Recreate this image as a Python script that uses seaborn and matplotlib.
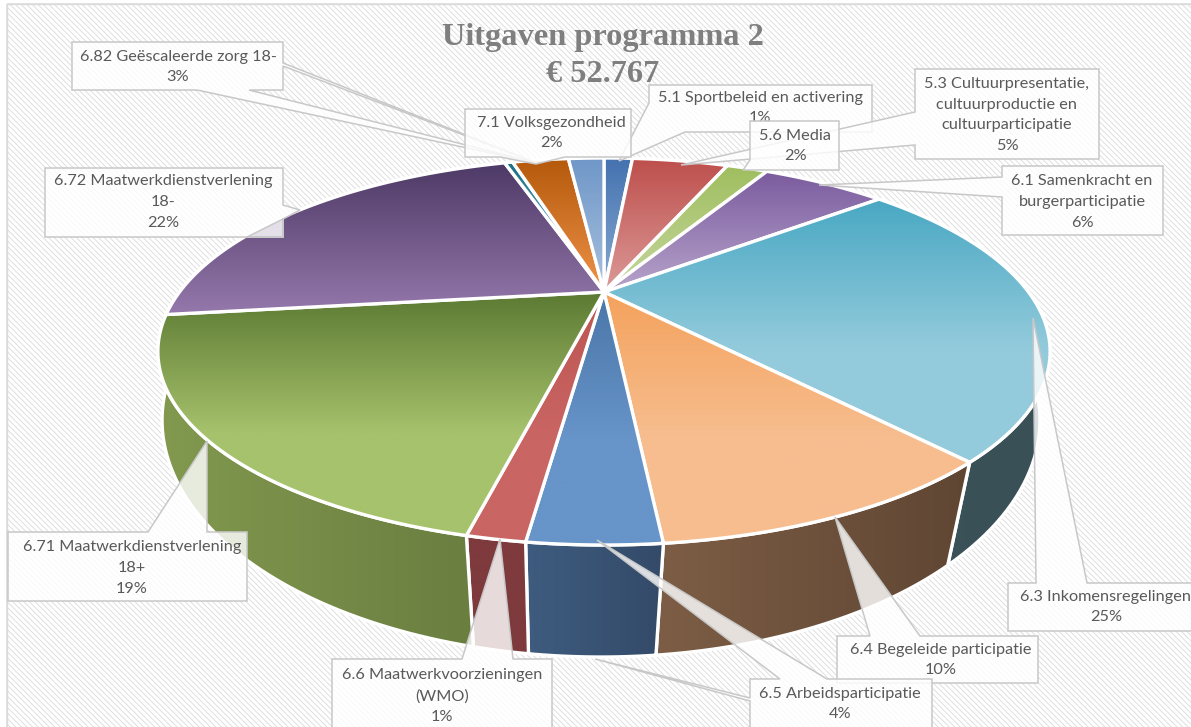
import numpy as np
import seaborn as sns
from matplotlib import pyplot as plt
from matplotlib.patches import Polygon, Rectangle

# share of every slice (the printed labels are rounded)
codes = ["5.1", "5.3", "5.6", "6.1", "6.3", "6.4", "6.5", "6.6", "6.71", "6.72", "6.81", "6.82", "7.1"]
shares = [1.4, 4.7, 2.0, 6.0, 24.4, 10.0, 3.6, 1.6, 19.4, 22.1, 0.4, 2.75, 1.75]

top_colors = ["#4472b0", "#bd4f4c", "#9fbe5f", "#7a5b9e", "#49a8c3", "#f4a25c", "#4a76a8", "#bb5552",
              "#5c7a33", "#4e3a66", "#1d6f84", "#b5590c", "#6f97c8"]
low_colors = ["#8aabd2", "#dc9a98", "#c6d79e", "#b7a4cb", "#94cbdc", "#f7bd8f", "#6794c9", "#c96563",
              "#a6c26c", "#9578ac", "#7fc3d6", "#ee9249", "#a9c1de"]
wall_left = ["#3a5578", "#7d3a3a", "#65793c", "#54406e", "#3a5259", "#7d5d45", "#3e5c7f", "#7e3a3c",
             "#82994f", "#54406e", "#1a4a58", "#7a3f0a", "#3a5578"]
wall_right = ["#3a5578", "#7d3a3a", "#65793c", "#54406e", "#3b5057", "#5f4633", "#344a69", "#7e3a3c",
              "#6a7e40", "#54406e", "#1a4a58", "#7a3f0a", "#3a5578"]

label_texts = {
    "5.1": "5.1 Sportbeleid en activering\n1%",
    "5.3": "5.3 Cultuurpresentatie,\ncultuurproductie en\ncultuurparticipatie\n5%",
    "5.6": "5.6 Media\n2%",
    "6.1": "6.1 Samenkracht en\nburgerparticipatie\n6%",
    "6.3": "6.3 Inkomensregelingen\n25%",
    "6.4": "6.4 Begeleide participatie\n10%",
    "6.5": "6.5 Arbeidsparticipatie\n4%",
    "6.6": "6.6 Maatwerkvoorzieningen\n(WMO)\n1%",
    "6.71": "6.71 Maatwerkdienstverlening\n18+\n19%",
    "6.72": "6.72 Maatwerkdienstverlening\n18-\n22%",
    "6.82": "6.82 Geëscaleerde zorg 18-\n3%",
    "7.1": "7.1 Volksgezondheid\n2%",
}
title_lines = ["Uitgaven programma 2", "€ 52.767"]

# layout in pixels: text centre and the callout outline of every label
label_centers = {
    "5.1": (760, 108), "5.3": (1007, 115), "5.6": (795, 146), "6.1": (1082, 202), "6.3": (1106, 607),
    "6.4": (941, 660), "6.5": (840, 704), "6.6": (442, 696), "6.71": (132, 568), "6.72": (163, 202),
    "6.82": (178, 67), "7.1": (551, 133),
}
label_outlines = {
    "5.1": [(649, 85), (872, 85), (872, 132), (685, 132), (619, 161), (649, 103)],
    "5.3": [(915, 69), (1099, 69), (1099, 159), (915, 159), (915, 145), (681, 165), (915, 112)],
    "5.6": [(750, 121), (839, 121), (839, 170), (750, 170), (743, 170), (750, 160)],
    "6.1": [(1002, 166), (1163, 166), (1163, 235), (1002, 235), (1002, 197), (819, 185), (1002, 177)],
    "6.3": [(1008, 583), (1036, 583), (1033, 318), (1087, 583), (1200, 583), (1200, 631), (1008, 631)],
    "6.4": [(837, 636), (870, 636), (835, 517), (920, 636), (1038, 636), (1038, 683), (837, 683)],
    "6.5": [(750, 679), (780, 679), (597, 540), (827, 679), (932, 679), (932, 735), (750, 735), (750, 701),
            (595, 659), (750, 698)],
    "6.6": [(332, 659), (462, 659), (500, 539), (513, 659), (552, 659), (552, 735), (332, 735)],
    "6.71": [(8, 532), (148, 532), (207, 441), (207, 532), (247, 532), (247, 601), (8, 601)],
    "6.72": [(45, 168), (283, 168), (283, 205), (300, 210), (283, 219), (283, 237), (247, 237), (283, 219),
             (283, 237), (45, 237)],
    "6.82": [(72, 42), (283, 42), (283, 63), (537, 163), (283, 66), (283, 90), (249, 90), (537, 163),
             (197, 90), (72, 90)],
    "7.1": [(465, 109), (631, 109), (631, 157), (565, 157), (536, 164), (500, 157), (465, 157)],
}

# perspective of the top face and of the bottom face of the disc
top_face = dict(cx=604, cy=292, k=424.5, a=175.2, c=0.3075)
low_face = dict(cx=601, cy=361, k=425.0, a=222.0, c=0.25)


def project(theta, cx, cy, k, a, c):
    # theta runs clockwise from 12 o'clock, the far side of the disc is smaller
    x = np.sin(theta)
    y = np.cos(theta)
    d = 1 + c * y
    return cx + k * x / d, cy - a * y / d


def fill_gradient(ax, points, first, last, horizontal, z):
    # gradient image clipped to the polygon, white outline on top
    points = np.array(points)
    x0, y0 = points.min(axis=0)
    x1, y1 = points.max(axis=0)
    ramp = np.linspace(0, 1, 128)
    # on the big slices the light colour is reached about half way down
    if not horizontal and y1 - y0 > 200:
        ramp = np.clip(ramp / 0.58, 0, 1)
    ramp = ramp.reshape(1, -1) if horizontal else ramp.reshape(-1, 1)
    cmap = sns.blend_palette([first, last], n_colors=128, as_cmap=True)
    im = ax.imshow(ramp, cmap=cmap, vmin=0, vmax=1, extent=(x0, x1, y1, y0), aspect="auto", zorder=z,
                   interpolation="bilinear")
    outline = Polygon(points, closed=True, facecolor="none", edgecolor="white", linewidth=2.4, zorder=z + 0.1,
                      joinstyle="round")
    ax.add_patch(outline)
    im.set_clip_path(outline)


sns.set_theme(style="white")
plt.rcParams["font.family"] = ["Lato", "DejaVu Sans"]
plt.rcParams["hatch.linewidth"] = 0.6

fig = plt.figure(figsize=(11.91, 7.27), dpi=100)
ax = fig.add_axes([0, 0, 1, 1])

# chart area with the thin diagonal stripes
ax.add_patch(Rectangle((7, 4), 1190, 730, facecolor="white", edgecolor="#dadada", hatch="\\" * 6, zorder=0))
ax.add_patch(Rectangle((7, 4), 1190, 730, facecolor="none", edgecolor="#dcdcdc", linewidth=1.2, zorder=0.5))

bounds = np.cumsum([0] + shares) / sum(shares) * 2 * np.pi

for i in range(len(shares)):
    arc = np.linspace(bounds[i], bounds[i + 1], 60)
    tx, ty = project(arc, **top_face)
    bx, by = project(arc[::-1], **low_face)
    wall = np.column_stack([np.r_[tx, bx], np.r_[ty, by]])
    fill_gradient(ax, wall, wall_left[i], wall_right[i], True, 1 + i * 0.2)

for i in range(len(shares)):
    arc = np.linspace(bounds[i], bounds[i + 1], 60)
    tx, ty = project(arc, **top_face)
    face = np.column_stack([np.r_[top_face["cx"], tx], np.r_[top_face["cy"], ty]])
    fill_gradient(ax, face, top_colors[i], low_colors[i], False, 5 + i * 0.2)

for n, code in enumerate(label_texts):
    ax.add_patch(Polygon(label_outlines[code], closed=True, facecolor=(1, 1, 1, 0.82), edgecolor="#c8c8c8",
                         linewidth=1.1, zorder=10 + n))
    ax.text(*label_centers[code], label_texts[code], ha="center", va="center", fontsize=11.7, color="#595959",
            linespacing=1.62, zorder=10 + n + 0.5)

ax.text(603, 37, title_lines[0], ha="center", va="center", fontsize=23.3, fontweight="bold",
        family="Liberation Serif", color="#7f7f7f", zorder=9)
ax.text(603, 74, title_lines[1], ha="center", va="center", fontsize=23.3, fontweight="bold",
        family="Liberation Serif", color="#7f7f7f", zorder=9)

ax.set_xlim(0, 1191)
ax.set_ylim(727, 0)
ax.axis("off")

fig.savefig("out.png", dpi=100)
